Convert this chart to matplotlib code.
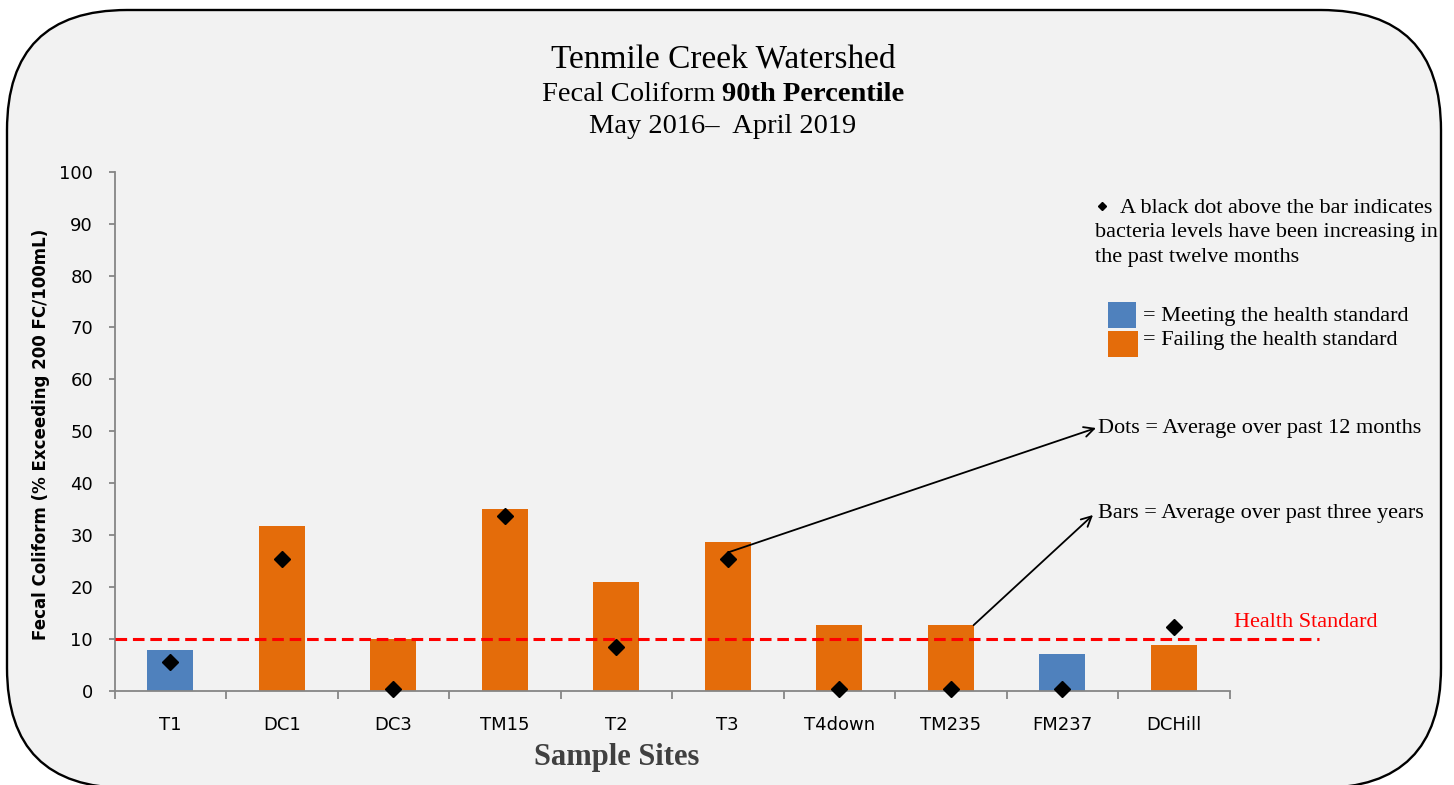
import numpy as np
import matplotlib
matplotlib.use('Agg')
import matplotlib.pyplot as plt
from matplotlib.patches import FancyBboxPatch, Rectangle
from matplotlib.lines import Line2D
from matplotlib.transforms import IdentityTransform

# data
sites = ['T1', 'DC1', 'DC3', 'TM15', 'T2', 'T3', 'T4down', 'TM235', 'FM237', 'DCHill']
bar_values = [7.8, 31.8, 10.0, 34.9, 20.9, 28.6, 12.6, 12.6, 7.1, 8.7]   # avg over past three years
dot_values = [5.5, 25.3, 0.2, 33.6, 8.3, 25.3, 0.2, 0.2, 0.2, 12.3]     # avg over past 12 months
meets_standard = [True, False, False, False, False, False, False, False, True, False]
health_standard = 10
y_ticks = list(range(0, 101, 10))

BLUE = '#4F81BD'
ORANGE = '#E46C0A'
SERIF = 'Liberation Serif'
SANS = 'DejaVu Sans'

W, H = 1454, 785
fig = plt.figure(figsize=(W / 100, H / 100), dpi=100, facecolor='white')
px = IdentityTransform()  # figure pixel coords, origin bottom-left

# rounded chart frame
frame = FancyBboxPatch((7, H - 788), 1434, 778, boxstyle='round,pad=0,rounding_size=120',
                       transform=px, facecolor='#F2F2F2', edgecolor='black', linewidth=1.7,
                       zorder=0)
fig.add_artist(frame)

ax = fig.add_axes([114.5 / W, (H - 690.5) / H, 1115 / W, 518.7 / H])
ax.set_facecolor('none')

x = np.arange(len(sites))
bar_width = 0.41
colors = [BLUE if m else ORANGE for m in meets_standard]
ax.bar(x, bar_values, width=bar_width, color=colors, zorder=2)

# health standard line runs past the end of the axis
ax.plot([-0.5, 10.3], [health_standard, health_standard], color='#FF0000', lw=2.2,
        dashes=(3.8, 1.9), clip_on=False, zorder=3)
ax.plot(x, dot_values, linestyle='none', marker='D', ms=8.3, color='black',
        clip_on=False, zorder=4)

ax.set_xlim(-0.5, len(sites) - 0.5)
ax.set_ylim(0, 100)
ax.set_yticks(y_ticks)
ax.set_xticks(np.arange(-0.5, len(sites), 1))
ax.set_xticklabels([])
ax.set_xticks(x, minor=True)
ax.set_xticklabels(sites, minor=True)

for s in ['top', 'right']:
    ax.spines[s].set_visible(False)
for s in ['left', 'bottom']:
    ax.spines[s].set_color('#868686')
    ax.spines[s].set_linewidth(1.3)

ax.tick_params(axis='x', which='major', length=6, width=1.3, color='#868686', direction='out')
ax.tick_params(axis='x', which='minor', length=0, pad=18, labelsize=13)
ax.tick_params(axis='y', length=4.5, width=1.3, color='#868686', direction='out',
               pad=11, labelsize=13)
for lab in ax.get_xticklabels(minor=True) + ax.get_yticklabels():
    lab.set_fontfamily(SANS)

fig.text(41, H - 434, 'Fecal Coliform (% Exceeding 200 FC/100mL)', transform=px,
         rotation=90, ha='center', va='center', fontsize=12, fontweight='bold', family=SANS)
fig.text(617, H - 765, 'Sample Sites', transform=px, ha='center', va='baseline',
         fontsize=22, fontweight='bold', color='#404040', family=SERIF)

# titles
fig.text(723, H - 67, 'Tenmile Creek Watershed', transform=px, ha='center', va='baseline',
         fontsize=24, family=SERIF)
t_reg = fig.text(0, H - 101, 'Fecal Coliform', transform=px, ha='left', va='baseline',
                 fontsize=20.5, family=SERIF)
t_bold = fig.text(0, H - 101, '90th Percentile', transform=px, ha='left', va='baseline',
                  fontsize=20.5, fontweight='bold', family=SERIF)
fig.text(723, H - 133, 'May 2016\u2013  April 2019', transform=px, ha='center',
         va='baseline', fontsize=20.5, family=SERIF)

renderer = fig.canvas.get_renderer()
w1 = t_reg.get_window_extent(renderer).width
w2 = t_bold.get_window_extent(renderer).width
gap = 7
start = 723 - (w1 + gap + w2) / 2
t_reg.set_x(start)
t_bold.set_x(start + w1 + gap)

# legend / notes on the right
fig.add_artist(Line2D([1101.5], [H - 206], transform=px, marker='D', ms=4, color='black',
                      linestyle='none'))
note_kw = dict(transform=px, ha='left', va='baseline', fontsize=16, family=SERIF)
fig.text(1120, H - 213, 'A black dot above the bar indicates', **note_kw)
fig.text(1095, H - 237, 'bacteria levels have been increasing in', **note_kw)
fig.text(1095, H - 262, 'the past twelve months', **note_kw)

fig.add_artist(Rectangle((1108, H - 328), 28, 26, transform=px, facecolor=BLUE,
                         edgecolor='none'))
fig.add_artist(Rectangle((1108, H - 357), 30, 26, transform=px, facecolor=ORANGE,
                         edgecolor='none'))
fig.text(1143, H - 321, '= Meeting the health standard', **note_kw)
fig.text(1143, H - 345, '= Failing the health standard', **note_kw)

fig.text(1098, H - 433, 'Dots = Average over past 12 months', **note_kw)
fig.text(1098, H - 518, 'Bars = Average over past three years', **note_kw)
fig.text(1234, H - 627, 'Health Standard', transform=px, ha='left', va='baseline',
         fontsize=16, color='#FF0000', family=SERIF)

arrow = dict(arrowstyle='->', color='black', lw=1.3, shrinkA=0, shrinkB=0, mutation_scale=18)
ax.annotate('', xy=(1096, H - 428), xycoords='figure pixels',
            xytext=(x[5], dot_values[5] + 1.3), textcoords='data',
            arrowprops=arrow, annotation_clip=False)
ax.annotate('', xy=(1093, H - 515), xycoords='figure pixels',
            xytext=(x[7] + bar_width / 2, bar_values[7]), textcoords='data',
            arrowprops=arrow, annotation_clip=False)

fig.savefig('out.png', dpi=100, facecolor='white')
plt.close(fig)
